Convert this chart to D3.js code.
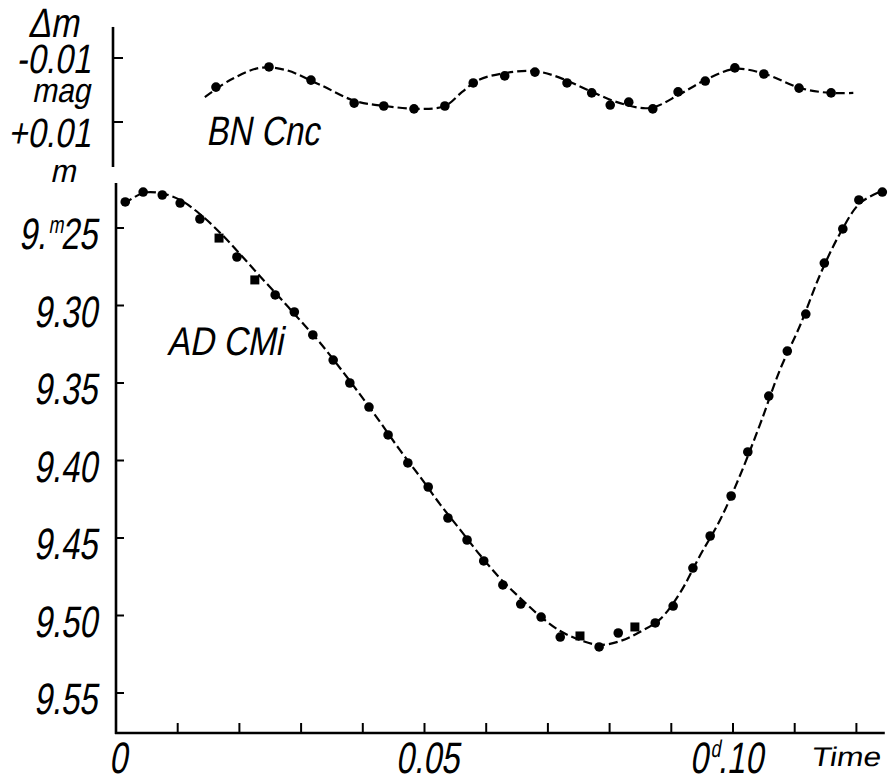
<!DOCTYPE html>
<html>
<head>
<meta charset="utf-8">
<script src="https://cdn.jsdelivr.net/npm/d3@7"></script>
<style>
  html, body { margin: 0; padding: 0; background: #fff; }
  svg { display: block; }
  text { font-family: "Liberation Sans", Arimo, "DejaVu Sans", sans-serif; fill: #000; }
</style>
</head>
<body>
<svg id="chart" width="888" height="784"></svg>
<script>
// ---- data (time in days, magnitudes) ----
// BN Cnc: differential magnitude observations
const bnTime = [0.0162, 0.0248, 0.0316, 0.0386, 0.0434, 0.0483, 0.0533, 0.0579, 0.0630, 0.0679, 0.0731, 0.0771, 0.0801, 0.0831, 0.0870, 0.0911, 0.0955, 0.1003, 0.1050, 0.1107, 0.1159];
const bnDm   = [-0.0009, -0.0072, -0.0031, 0.0041, 0.0050, 0.0059, 0.0050, -0.0022, -0.0044, -0.0056, -0.0022, 0.0009, 0.0047, 0.0038, 0.0059, 0.0006, -0.0028, -0.0069, -0.0050, -0.0006, 0.0009];
// BN Cnc: mean curve (dashed)
const bnCurveTime = [0.0144, 0.0185, 0.0233, 0.0274, 0.0331, 0.0387, 0.0436, 0.0493, 0.0533, 0.0561, 0.0587, 0.0631, 0.0679, 0.0720, 0.0768, 0.0817, 0.0866, 0.0914, 0.0955, 0.1003, 0.1052, 0.1109, 0.1157, 0.1195];
const bnCurveDm   = [0.0022, -0.0031, -0.0069, -0.0063, -0.0016, 0.0034, 0.0050, 0.0059, 0.0050, 0.0006, -0.0031, -0.0053, -0.0059, -0.0038, 0.0003, 0.0041, 0.0056, 0.0013, -0.0031, -0.0066, -0.0050, -0.0006, 0.0009, 0.0009];

// AD CMi: magnitude observations (dots)
const adTime = [0.0015, 0.0044, 0.0075, 0.0104, 0.0136, 0.0196, 0.0258, 0.0289, 0.0319, 0.0352, 0.0379, 0.0410, 0.0441, 0.0473, 0.0506, 0.0538, 0.0569, 0.0596, 0.0627, 0.0656, 0.0689, 0.0720, 0.0783, 0.0814, 0.0874, 0.0903, 0.0935, 0.0963, 0.0997, 0.1024, 0.1058, 0.1088, 0.1118, 0.1148, 0.1178, 0.1204, 0.1242];
const adMag  = [9.2332, 9.2268, 9.2287, 9.2339, 9.2442, 9.2687, 9.2932, 9.3042, 9.3190, 9.3352, 9.3500, 9.3655, 9.3835, 9.4016, 9.4171, 9.4371, 9.4513, 9.4648, 9.4803, 9.4926, 9.5010, 9.5139, 9.5203, 9.5113, 9.5048, 9.4939, 9.4694, 9.4487, 9.4229, 9.3945, 9.3584, 9.3294, 9.3055, 9.2726, 9.2506, 9.2319, 9.2268];
// AD CMi: observations drawn as squares
const adSqTime = [0.0167, 0.0225, 0.0752, 0.0841];
const adSqMag  = [9.2565, 9.2835, 9.5132, 9.5074];
// AD CMi: mean light curve (dashed)
const adCurveTime = [0.0013, 0.0044, 0.0071, 0.0104, 0.0136, 0.0169, 0.0201, 0.0233, 0.0266, 0.0298, 0.0331, 0.0363, 0.0396, 0.0428, 0.0460, 0.0493, 0.0525, 0.0558, 0.0590, 0.0622, 0.0655, 0.0687, 0.0720, 0.0752, 0.0784, 0.0817, 0.0849, 0.0882, 0.0914, 0.0947, 0.0979, 0.1011, 0.1044, 0.1076, 0.1109, 0.1141, 0.1173, 0.1206, 0.1245];
const adCurveMag  = [9.2345, 9.2274, 9.2274, 9.2319, 9.2410, 9.2532, 9.2668, 9.2810, 9.2952, 9.3094, 9.3242, 9.3403, 9.3577, 9.3752, 9.3932, 9.4106, 9.4281, 9.4448, 9.4610, 9.4758, 9.4887, 9.5003, 9.5100, 9.5158, 9.5190, 9.5165, 9.5106, 9.5023, 9.4855, 9.4610, 9.4384, 9.4100, 9.3765, 9.3416, 9.3126, 9.2803, 9.2539, 9.2339, 9.2255];

const xTicks = [0.01, 0.02, 0.03, 0.04, 0.05, 0.06, 0.07, 0.08, 0.09, 0.10, 0.11, 0.12];
const magTicks = [9.25, 9.30, 9.35, 9.40, 9.45, 9.50, 9.55];
const magTickLabels = ["9.|m|25", "9.30", "9.35", "9.40", "9.45", "9.50", "9.55"];
const dmTicks = [-0.01, 0.01];
const dmTickLabels = ["-0.01", "+0.01"];
const xTickLabels = ["0", "0.05", "0|d|.10"];
const xLabelValues = [0, 0.05, 0.10];

// ---- scales ----
const svg = d3.select("#chart");
const x = d3.scaleLinear().domain([0, 0.12]).range([116, 856.4]);
const yMag = d3.scaleLinear().domain([9.25, 9.55]).range([228, 693]);
const yDm = d3.scaleLinear().domain([-0.01, 0.01]).range([58, 122]);

// lettering helper: condensed, slanted text; "a|b|c" puts b as superscript
function letter(px, py, anchor, size, sx, str, skew = -13) {
  const g = svg.append("g")
    .attr("transform", `translate(${px},${py}) scale(${sx},1) skewX(${skew})`);
  const t = g.append("text").attr("x", 0).attr("y", 0)
    .attr("text-anchor", anchor).attr("font-size", size);
  const parts = str.split("|");
  if (parts.length === 3) {
    t.append("tspan").text(parts[0]);
    t.append("tspan").attr("dy", -size * 0.36).attr("font-size", size * 0.55).text(parts[1]);
    t.append("tspan").attr("dy", size * 0.36).text(parts[2]);
  } else {
    t.text(str);
  }
  return g;
}

const axisW = 2.6;
const upperAxisX = 113;

// ---- axes ----
svg.append("line").attr("x1", upperAxisX).attr("x2", upperAxisX)
  .attr("y1", yDm(-0.0197)).attr("y2", 167)
  .attr("stroke", "#000").attr("stroke-width", axisW);
svg.selectAll(".dmtick").data(dmTicks).join("line")
  .attr("x1", upperAxisX).attr("x2", upperAxisX + 10)
  .attr("y1", d => yDm(d)).attr("y2", d => yDm(d))
  .attr("stroke", "#000").attr("stroke-width", 2);

const y0 = 733;
svg.append("line").attr("x1", x(0)).attr("x2", x(0))
  .attr("y1", 183).attr("y2", y0 + 1)
  .attr("stroke", "#000").attr("stroke-width", axisW);
svg.selectAll(".magtick").data(magTicks).join("line")
  .attr("x1", x(0)).attr("x2", x(0) + 8)
  .attr("y1", d => yMag(d)).attr("y2", d => yMag(d))
  .attr("stroke", "#000").attr("stroke-width", 2);

svg.append("line").attr("x1", x(0) - 1).attr("x2", x(0.1246))
  .attr("y1", y0).attr("y2", y0)
  .attr("stroke", "#000").attr("stroke-width", axisW);
svg.selectAll(".xtick").data(xTicks).join("line")
  .attr("x1", d => x(d)).attr("x2", d => x(d))
  .attr("y1", y0).attr("y2", y0 - 10)
  .attr("stroke", "#000").attr("stroke-width", 2);

// ---- tick labels ----
const fsTick = 44, sxTick = 0.74;
magTicks.forEach((v, i) => letter(97, yMag(v) + 21, "end", fsTick, sxTick, magTickLabels[i]));
dmTicks.forEach((v, i) => letter(91, yDm(v) + (v < 0 ? 15 : 25), "end", 41, 0.8, dmTickLabels[i]));
letter(90, 102, "end", 34, 0.88, "mag");
letter(28, 37, "start", 41, 0.82, "Δm");
letter(50, 182, "start", 32, 0.95, "m");

const xLabelBase = 773;
letter(x(xLabelValues[0]) + 2, xLabelBase, "middle", fsTick, sxTick, xTickLabels[0]);
letter(x(xLabelValues[1]) + 3, xLabelBase, "middle", fsTick, sxTick, xTickLabels[1]);
letter(x(xLabelValues[2]) + 30, xLabelBase, "end", fsTick, sxTick, xTickLabels[2]);
letter(880, 766, "end", 27, 1.18, "Time", -8);

// star labels
letter(206, 145, "start", 41, 0.8, "BN Cnc");
letter(167, 355, "start", 40, 0.84, "AD CMi");

// ---- curves ----
const dash = "9,4";
const bnLine = d3.line().x(d => x(d[0])).y(d => yDm(d[1])).curve(d3.curveCatmullRom.alpha(0.5));
svg.append("path").datum(d3.zip(bnCurveTime, bnCurveDm)).attr("d", bnLine)
  .attr("fill", "none").attr("stroke", "#000").attr("stroke-width", 2.2).attr("stroke-dasharray", dash);
const adLine = d3.line().x(d => x(d[0])).y(d => yMag(d[1])).curve(d3.curveCatmullRom.alpha(0.5));
svg.append("path").datum(d3.zip(adCurveTime, adCurveMag)).attr("d", adLine)
  .attr("fill", "none").attr("stroke", "#000").attr("stroke-width", 2.2).attr("stroke-dasharray", dash);

// ---- points ----
svg.selectAll(".bn").data(d3.zip(bnTime, bnDm)).join("circle")
  .attr("cx", d => x(d[0])).attr("cy", d => yDm(d[1])).attr("r", 4.8).attr("fill", "#000");
svg.selectAll(".ad").data(d3.zip(adTime, adMag)).join("circle")
  .attr("cx", d => x(d[0])).attr("cy", d => yMag(d[1])).attr("r", 4.8).attr("fill", "#000");
svg.selectAll(".adsq").data(d3.zip(adSqTime, adSqMag)).join("rect")
  .attr("x", d => x(d[0]) - 4.5).attr("y", d => yMag(d[1]) - 4.5)
  .attr("width", 9).attr("height", 9).attr("fill", "#000");
</script>
</body>
</html>
